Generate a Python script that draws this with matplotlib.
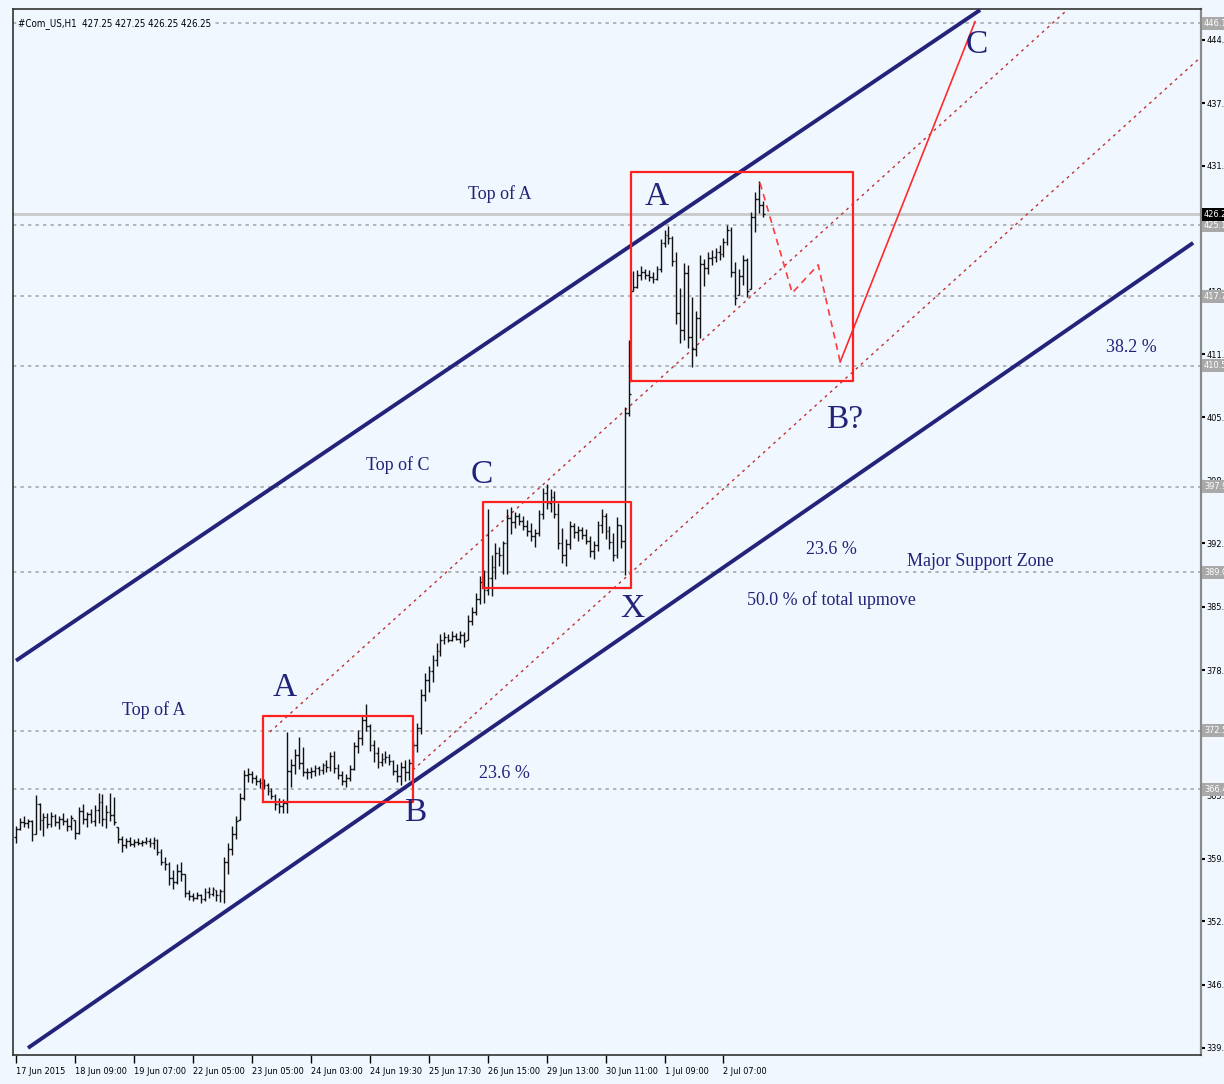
import numpy as np
import matplotlib.pyplot as plt
from matplotlib import font_manager
from matplotlib.font_manager import FontProperties
from matplotlib.transforms import blended_transform_factory

# H1 bars (index 0 = 17 Jun 2015)
highs = [362.6, 363.4, 363.6, 363.3, 363.2, 365.8, 365.0, 364.0, 363.9, 364.1,
         363.8, 363.6, 363.9, 363.4, 363.7, 363.2, 364.6, 364.9, 364.1, 364.4,
         364.8, 366.0, 365.9, 364.8, 366.0, 365.6, 362.5, 361.6, 361.3, 361.4,
         361.2, 361.3, 361.1, 361.4, 361.3, 361.5, 361.2, 360.2, 359.4, 358.9,
         358.0, 358.6, 358.9, 357.6, 355.9, 355.6, 355.7, 355.5, 356.1, 356.2,
         356.3, 355.9, 356.0, 359.4, 360.8, 362.6, 363.6, 366.0, 368.4, 368.6,
         368.3, 367.9, 367.6, 367.5, 367.1, 366.6, 365.9, 365.5, 365.4, 372.4,
         369.6, 370.6, 371.9, 370.8, 368.6, 368.7, 368.9, 368.8, 369.2, 369.5,
         370.3, 370.4, 369.0, 368.3, 368.0, 368.9, 371.3, 372.6, 374.0, 375.3,
         373.2, 371.5, 370.8, 370.2, 370.4, 370.1, 369.5, 369.0, 369.3, 369.5,
         369.6, 371.4, 373.3, 376.8, 378.5, 379.2, 380.4, 381.6, 382.6, 382.8,
         382.6, 382.9, 382.7, 382.9, 382.8, 384.5, 385.4, 386.8, 388.6, 389.2,
         395.6, 390.8, 392.0, 391.6, 392.3, 395.6, 395.8, 395.3, 395.2, 394.8,
         394.4, 394.1, 393.5, 395.5, 397.8, 398.2, 397.7, 397.4, 396.2, 393.6,
         392.5, 394.3, 394.1, 393.8, 393.7, 393.5, 392.8, 392.2, 394.3, 395.6,
         395.2, 393.8, 393.1, 394.7, 393.9, 406.2, 413.2, 420.3, 420.4, 420.9,
         420.6, 420.4, 420.2, 420.9, 423.7, 424.6, 425.0, 424.0, 422.3, 418.6,
         421.2, 421.0, 417.6, 416.2, 422.0, 421.6, 422.3, 422.5, 422.7, 423.0,
         423.8, 425.1, 424.9, 421.3, 420.6, 422.0, 421.7, 426.5, 428.6, 429.7,
         427.6]
lows = [360.8, 362.2, 362.5, 362.4, 361.0, 361.8, 362.2, 361.6, 362.4, 362.5,
        362.6, 362.3, 362.7, 362.1, 362.2, 361.2, 361.8, 362.8, 362.5, 362.9,
        362.6, 362.9, 362.6, 362.4, 363.1, 362.7, 360.8, 359.9, 360.3, 360.5,
        360.4, 360.6, 360.5, 360.7, 360.4, 360.2, 359.6, 358.5, 358.0, 356.5,
        356.0, 356.6, 356.9, 355.2, 354.9, 354.8, 355.0, 354.6, 354.8, 355.1,
        355.3, 354.8, 354.7, 354.6, 357.6, 359.6, 361.2, 363.2, 365.3, 367.2,
        367.1, 366.9, 366.5, 366.4, 365.8, 365.4, 364.3, 364.0, 363.9, 364.0,
        366.7, 368.0, 368.5, 367.8, 367.5, 367.6, 367.8, 367.9, 368.0, 368.2,
        368.3, 368.1, 367.5, 366.9, 366.7, 367.3, 368.4, 370.2, 371.0, 372.5,
        370.4, 369.3, 368.6, 368.8, 369.1, 368.9, 367.9, 367.2, 366.9, 367.3,
        367.4, 368.7, 370.3, 372.2, 375.6, 376.5, 377.6, 379.2, 380.3, 381.5,
        381.7, 381.8, 381.9, 381.6, 381.2, 381.9, 383.5, 384.6, 385.7, 385.8,
        386.6, 386.5, 388.3, 389.6, 388.8, 388.8, 393.0, 393.6, 393.9, 393.4,
        392.8, 392.3, 391.6, 392.8, 394.5, 395.6, 395.3, 394.6, 391.4, 390.0,
        389.6, 391.4, 392.6, 392.2, 392.5, 391.9, 390.6, 390.4, 391.2, 393.1,
        392.5, 391.4, 390.2, 390.5, 391.5, 388.7, 405.3, 418.3, 418.6, 419.4,
        419.5, 419.3, 419.1, 419.4, 420.2, 422.8, 423.2, 420.9, 414.8, 412.8,
        413.2, 412.3, 410.4, 411.5, 413.4, 418.8, 420.0, 421.0, 421.3, 421.5,
        421.8, 423.0, 419.7, 416.8, 417.8, 418.9, 417.6, 418.5, 424.4, 426.4,
        426.0]
closes = [362.3, 363.0, 362.9, 363.1, 361.8, 364.9, 363.2, 363.5, 362.8, 363.6,
          363.0, 363.3, 363.1, 362.6, 363.4, 361.9, 364.2, 363.3, 363.8, 363.1,
          364.3, 365.1, 363.3, 364.1, 363.7, 363.0, 361.2, 360.6, 361.0, 360.7,
          360.9, 360.8, 360.9, 361.0, 360.8, 361.1, 359.9, 358.9, 358.6, 357.2,
          356.8, 357.9, 357.6, 355.6, 355.3, 355.1, 355.4, 355.0, 355.7, 355.5,
          356.0, 355.4, 355.8, 358.8, 360.2, 361.8, 363.1, 365.5, 367.9, 368.0,
          367.6, 367.3, 367.1, 366.9, 366.2, 365.7, 364.9, 364.7, 365.0, 368.3,
          368.9, 370.0, 369.2, 368.2, 368.2, 368.3, 368.6, 368.4, 368.9, 368.7,
          369.9, 368.6, 367.9, 367.3, 367.6, 368.5, 370.9, 371.8, 373.6, 373.0,
          371.0, 370.2, 369.3, 369.6, 369.8, 369.4, 368.3, 367.8, 368.7, 368.2,
          369.2, 371.0, 372.8, 376.2, 377.8, 378.7, 379.9, 380.8, 381.9, 382.3,
          382.0, 382.4, 382.1, 382.5, 381.8, 383.9, 384.9, 386.2, 388.0, 387.1,
          388.4, 389.5, 391.0, 390.8, 392.0, 394.6, 394.2, 394.8, 394.3, 393.8,
          393.3, 392.8, 393.1, 395.1, 397.2, 396.2, 396.8, 395.1, 392.0, 390.8,
          391.9, 393.8, 393.2, 393.4, 392.9, 392.3, 391.2, 391.8, 393.9, 394.8,
          393.3, 392.1, 390.8, 393.9, 392.2, 405.6, 407.5, 418.7, 419.9, 420.2,
          419.9, 419.7, 419.5, 420.6, 423.3, 424.1, 423.8, 421.4, 416.0, 414.2,
          420.1, 413.5, 412.2, 415.4, 421.1, 420.7, 421.7, 421.8, 422.3, 422.1,
          423.4, 424.6, 420.2, 417.5, 419.8, 421.5, 418.3, 426.0, 427.8, 427.2,
          426.25]
first_open = 361.5

# time axis labels (one every 15 bars)
xtick_bars = [0, 15, 30, 45, 60, 75, 90, 105, 120, 135, 150, 165, 180]
xtick_labels = ['17 Jun 2015', '18 Jun 09:00', '19 Jun 07:00', '22 Jun 05:00',
                '23 Jun 05:00', '24 Jun 03:00', '24 Jun 19:30', '25 Jun 17:30',
                '26 Jun 15:00', '29 Jun 13:00', '30 Jun 11:00', '1 Jul 09:00',
                '2 Jul 07:00']
ytick_labels = ['339.50', '346.10', '352.70', '359.20', '365.80', '372.30',
                '378.80', '385.40', '392.00', '398.50', '405.10', '411.70',
                '418.20', '424.80', '431.30', '437.80', '444.40']

# horizontal levels drawn on the chart
levels = [446.10, 425.10, 417.70, 410.50, 397.90, 389.00, 372.50, 366.40]
last_price = 426.25

# trendlines (bar index, price)
upper_channel = [(0, 379.8), (245.3, 447.5)]
lower_channel = [(3.05, 339.5), (299.5, 423.27)]
dotted_1 = [(64.6, 372.38), (266.9, 447.3)]
dotted_2 = [(101.0, 368.43), (301.5, 442.62)]
path_dashed = [(189.3, 429.51), (197.5, 418.06), (204.1, 420.98), (209.7, 410.88)]
path_solid = [(209.7, 410.88), (244.0, 446.27)]

# boxes: (x0, x1, y_low, y_high)
boxes = [(62.85, 101.0, 365.10, 374.05),
         (118.8, 156.5, 387.37, 396.32),
         (156.5, 213.0, 408.91, 430.65)]

# labels: text, bar index, price, size
notes = [('Top of A', 123.2, 428.3, 13), ('A', 163.1, 428.1, 24),
         ('C', 244.5, 443.9, 24), ('B?', 210.9, 404.9, 24),
         ('38.2 %', 283.7, 412.4, 13), ('Top of C', 97.2, 400.1, 13),
         ('C', 118.6, 399.1, 24), ('23.6 %', 207.6, 391.4, 13),
         ('Major Support Zone', 245.3, 390.1, 13),
         ('50.0 % of total upmove', 207.6, 386.1, 13),
         ('X', 156.7, 385.2, 24), ('Top of A', 35.1, 374.7, 13),
         ('A', 68.4, 377.0, 24), ('23.6 %', 124.4, 368.1, 13),
         ('B', 101.5, 364.0, 24)]


def narrow_sans():
    # look for a narrow / condensed sans face, the scale text is squeezed
    for f in font_manager.fontManager.ttflist:
        fn = f.fname.lower()
        if ('narrow' in fn or 'condensed' in fn) and 'sans' in fn:
            if any(s in fn for s in ('bold', 'oblique', 'italic', 'mono')):
                continue
            return FontProperties(fname=f.fname), True
    return FontProperties(family='Liberation Sans'), False


def pick_font(names):
    have = {f.name for f in font_manager.fontManager.ttflist}
    for nm in names:
        if nm in have:
            return nm
    return 'DejaVu Sans'


scale_fp, is_narrow = narrow_sans()
xfp = scale_fp.copy()
xfp.set_size(6.6 if is_narrow else 6.2)
yfp = scale_fp.copy()
yfp.set_size(6.6 if is_narrow else 6.2)
tfp = scale_fp.copy()
tfp.set_size(7)
note_font = pick_font(['Liberation Serif', 'DejaVu Serif'])

bg = '#F0F7FF'
navy = '#23237A'

fig = plt.figure(figsize=(12.24, 10.84), dpi=100, facecolor=bg)
ax = fig.add_axes([13 / 1224, 29 / 1084, 1188 / 1224, 1046 / 1084])
ax.set_facecolor(bg)

n = len(highs)
x = np.arange(n)
hi = np.array(highs)
lo = np.array(lows)
cl = np.array(closes)
op = np.clip(np.r_[first_open, cl[:-1]], lo, hi)

# levels
for lv in levels:
    ax.axhline(lv, color='#A8A8A8', lw=1.2, ls=(0, (2, 2.5)), zorder=1)
ax.axhline(last_price, color='#C8C8C8', lw=2, zorder=1)

# bars
ax.vlines(x, lo, hi, color='#111111', lw=1.0, zorder=3)
ax.hlines(op, x - 0.45, x, color='#111111', lw=1.0, zorder=3)
ax.hlines(cl, x, x + 0.45, color='#111111', lw=1.0, zorder=3)

# channels
for ln in (upper_channel, lower_channel):
    xs, ys = zip(*ln)
    ax.plot(xs, ys, color=navy, lw=2.8, solid_capstyle='butt', zorder=4)
for ln in (dotted_1, dotted_2):
    xs, ys = zip(*ln)
    ax.plot(xs, ys, color='#C03030', lw=1.0, ls=(0, (2, 3)), zorder=2)

xs, ys = zip(*path_dashed)
ax.plot(xs, ys, color='#FF3B3B', lw=1.2, ls=(0, (4, 3)), zorder=4)
xs, ys = zip(*path_solid)
ax.plot(xs, ys, color='#FF2A2A', lw=1.2, zorder=4)

for x0, x1, y0, y1 in boxes:
    ax.plot([x0, x1, x1, x0, x0], [y0, y0, y1, y1, y0], color='#FF2020',
            lw=1.6, zorder=4)

for txt, bx, by, fs in notes:
    ax.text(bx, by, txt, fontsize=fs, family=note_font, color=navy,
            ha='center', va='center', zorder=5)

tr = blended_transform_factory(ax.transAxes, ax.transData)
ax.text(0.004, 446.1, '#Com_US,H1  427.25 427.25 426.25 426.25',
        transform=tr, fontproperties=tfp, color='black',
        va='center', ha='left', zorder=6,
        bbox=dict(boxstyle='square,pad=0.1', fc=bg, ec='none'))

ax.set_xlim(-0.76, 301.5)
ax.set_ylim(338.77, 447.6)

ax.yaxis.tick_right()
ax.set_xticks(xtick_bars)
ax.set_xticklabels(xtick_labels, ha='left', fontproperties=xfp)
ax.set_yticks([float(v) for v in ytick_labels])
ax.set_yticklabels(ytick_labels, fontproperties=yfp)
ax.tick_params(axis='x', length=6, width=1, pad=3, color='black')
ax.tick_params(axis='y', length=3, width=1.5, pad=1, color='black')

# price boxes on the scale
for lv in levels:
    ax.text(1.0025, lv, f'{lv:.2f}', transform=tr, fontproperties=yfp,
            color='white', va='center', ha='left', clip_on=False, zorder=6,
            bbox=dict(boxstyle='square,pad=0.2', fc='#A9A9A9', ec='none'))
ax.text(1.0025, last_price, f'{last_price:.2f}', transform=tr,
        fontproperties=yfp, color='white', va='center', ha='left',
        clip_on=False, zorder=7,
        bbox=dict(boxstyle='square,pad=0.2', fc='black', ec='none'))

for side in ('left', 'top', 'bottom'):
    ax.spines[side].set_color('#333333')
    ax.spines[side].set_linewidth(1.2)
ax.spines['right'].set_color('#8A8A8A')
ax.spines['right'].set_linewidth(1.6)

fig.savefig('out.png', dpi=100, facecolor=bg)
